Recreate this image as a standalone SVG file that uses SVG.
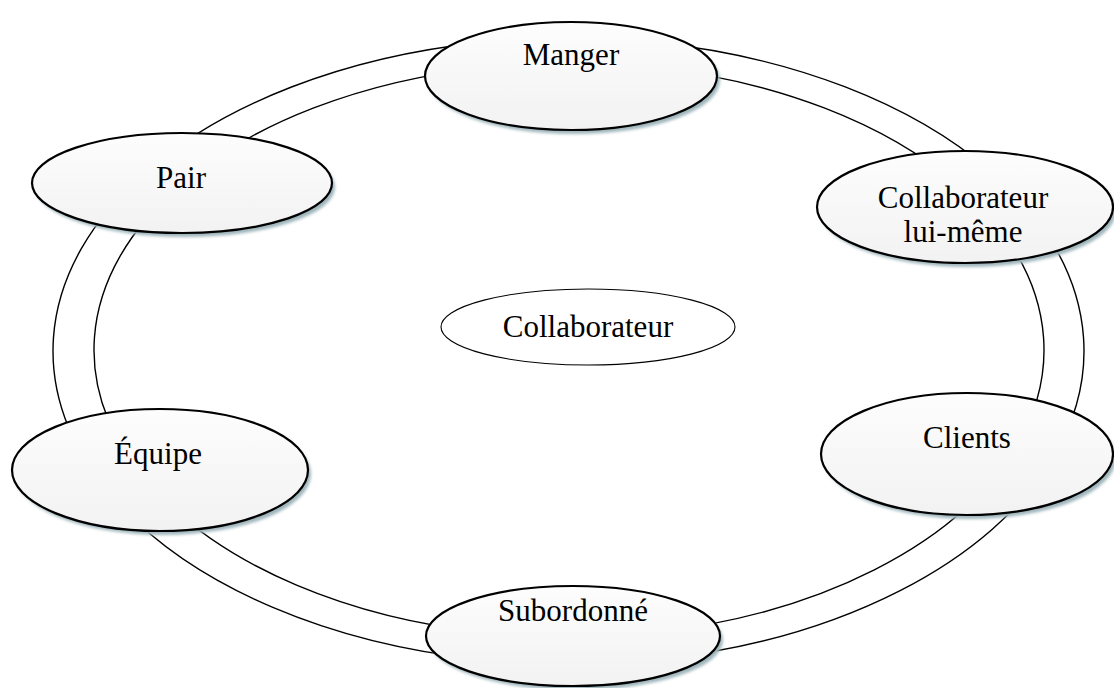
<svg xmlns="http://www.w3.org/2000/svg" width="1114" height="688" viewBox="0 0 1114 688">
<style>
.conn{fill:none;stroke:#000;stroke-width:1.4}
.node{fill:url(#g);stroke:#000;stroke-width:2.2}
.shadow{fill:#9fb6bc;filter:url(#blur)}
.center{fill:#fff;stroke:#000;stroke-width:1.1}
text{font-family:"Liberation Serif","Times New Roman",serif;font-size:31px;fill:#000;text-anchor:middle}
</style>
<defs>
<linearGradient id="g" x1="0" y1="0" x2="0" y2="1">
<stop offset="0" stop-color="#fdfdfd"/>
<stop offset="1" stop-color="#f2f2f2"/>
</linearGradient>
<filter id="blur" x="-10%" y="-20%" width="120%" height="140%"><feGaussianBlur stdDeviation="1.6"/></filter>
</defs>
<rect width="1114" height="688" fill="#fff"/>
<g id="connectors">
<path class="conn" d="M146.23,171.47 A515.5,313 0 0 1 478.98,42.75"/>
<path class="conn" d="M179.90,185.38 A475,287 0 0 1 486.52,67.36"/>
<path class="conn" d="M657.52,42.75 A515.5,313 0 0 1 990.77,171.47"/>
<path class="conn" d="M651.48,67.36 A475,287 0 0 1 958.10,185.38"/>
<path class="conn" d="M1035.70,218.72 A515.5,313 0 0 1 1052.91,458.05"/>
<path class="conn" d="M999.50,228.71 A475,287 0 0 1 1015.35,448.16"/>
<path class="conn" d="M1052.91,458.05 A515.5,313 0 0 1 657.52,659.25"/>
<path class="conn" d="M1015.35,448.16 A475,287 0 0 1 651.48,632.64"/>
<path class="conn" d="M478.98,659.25 A515.5,313 0 0 1 122.06,507.5"/>
<path class="conn" d="M486.52,632.64 A475,287 0 0 1 157.64,493.5"/>
<path class="conn" d="M122.06,507.5 A515.5,313 0 0 1 146.23,171.47"/>
<path class="conn" d="M157.64,493.5 A475,287 0 0 1 179.90,185.38"/>
</g>
<g id="center">
<ellipse class="center" cx="588" cy="327" rx="147" ry="38"/>
<text x="588" y="337">Collaborateur</text>
</g>
<g id="manger">
<ellipse class="shadow" cx="574" cy="80" rx="146" ry="54"/>
<ellipse class="node" cx="571" cy="76" rx="146" ry="54"/>
<text x="571" y="65">Manger</text>
</g>
<g id="pair">
<ellipse class="shadow" cx="185" cy="187" rx="150" ry="50"/>
<ellipse class="node" cx="182" cy="183" rx="150" ry="50"/>
<text x="181" y="188">Pair</text>
</g>
<g id="collaborateur-lui-meme">
<ellipse class="shadow" cx="968" cy="211" rx="148" ry="56"/>
<ellipse class="node" cx="965" cy="207" rx="148" ry="56"/>
<text x="963" y="208">Collaborateur</text>
<text x="963" y="242">lui-même</text>
</g>
<g id="clients">
<ellipse class="shadow" cx="970" cy="458" rx="146" ry="61"/>
<ellipse class="node" cx="967" cy="454" rx="146" ry="61"/>
<text x="967" y="448">Clients</text>
</g>
<g id="equipe">
<ellipse class="shadow" cx="163" cy="474" rx="148" ry="61"/>
<ellipse class="node" cx="160" cy="470" rx="148" ry="61"/>
<text x="158" y="464">Équipe</text>
</g>
<g id="subordonne">
<ellipse class="shadow" cx="576" cy="640" rx="147" ry="50"/>
<ellipse class="node" cx="573" cy="636" rx="147" ry="50"/>
<text x="573" y="621">Subordonné</text>
</g>
</svg>
